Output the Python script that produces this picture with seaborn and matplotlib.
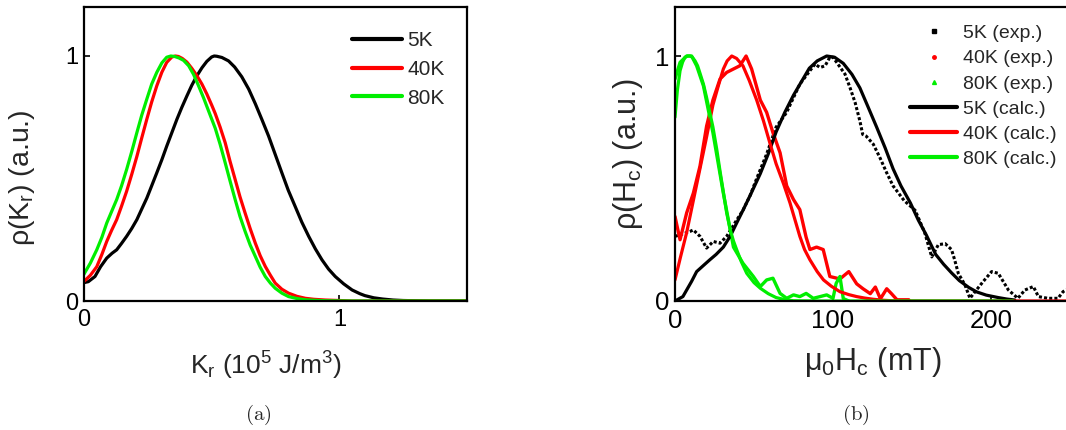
import numpy as np
import pandas as pd
import matplotlib
matplotlib.use("Agg")
import matplotlib.pyplot as plt
from matplotlib.lines import Line2D
import seaborn as sns

# ---------------- panel (a): rho(Kr) ----------------
kr_5K = [0, 0.017, 0.043, 0.065, 0.089, 0.11, 0.128, 0.147, 0.167, 0.187, 0.207, 0.226, 0.246,
         0.265, 0.285, 0.305, 0.324, 0.344, 0.364, 0.383, 0.403, 0.422, 0.442, 0.462, 0.481,
         0.50, 0.51, 0.52, 0.54, 0.566, 0.59, 0.618, 0.645, 0.671, 0.697, 0.723, 0.749, 0.775,
         0.80, 0.827, 0.853, 0.88, 0.906, 0.932, 0.958, 0.984, 1.017, 1.05, 1.08, 1.1, 1.135,
         1.17, 1.21, 1.25, 1.3, 1.35, 1.5]
rho_5K = [0.075, 0.079, 0.10, 0.14, 0.175, 0.195, 0.209, 0.235, 0.264, 0.296, 0.332, 0.375, 0.42,
          0.47, 0.523, 0.577, 0.632, 0.687, 0.742, 0.79, 0.837, 0.88, 0.919, 0.952, 0.978,
          0.996, 1.0, 0.999, 0.994, 0.98, 0.955, 0.915, 0.865, 0.805, 0.74, 0.673, 0.598, 0.523,
          0.452, 0.386, 0.322, 0.264, 0.213, 0.168, 0.13, 0.10, 0.07, 0.045, 0.03, 0.022, 0.013,
          0.008, 0.004, 0.002, 0.001, 0.0, 0.0]

kr_40K = [0, 0.025, 0.05, 0.07, 0.089, 0.108, 0.128, 0.147, 0.167, 0.187, 0.207, 0.226, 0.246,
          0.265, 0.285, 0.305, 0.324, 0.344, 0.358, 0.37, 0.385, 0.403, 0.422, 0.442, 0.462,
          0.481, 0.50, 0.514, 0.533, 0.553, 0.572, 0.592, 0.611, 0.631, 0.651, 0.671, 0.69, 0.71,
          0.73, 0.749, 0.775, 0.801, 0.834, 0.867, 0.9, 0.945, 1.0, 1.05, 1.5]
rho_40K = [0.08, 0.105, 0.14, 0.19, 0.243, 0.288, 0.332, 0.387, 0.448, 0.517, 0.59, 0.665, 0.742,
           0.812, 0.878, 0.934, 0.974, 0.996, 1.0, 0.998, 0.99, 0.975, 0.95, 0.92, 0.885,
           0.845, 0.80, 0.765, 0.71, 0.646, 0.57, 0.496, 0.425, 0.359, 0.295, 0.236, 0.185, 0.141,
           0.105, 0.073, 0.048, 0.032, 0.019, 0.011, 0.007, 0.004, 0.002, 0.0, 0.0]

kr_80K = [0, 0.025, 0.05, 0.07, 0.089, 0.108, 0.128, 0.147, 0.167, 0.187, 0.207, 0.226, 0.246,
          0.265, 0.285, 0.305, 0.324, 0.34, 0.355, 0.372, 0.39, 0.41, 0.429, 0.448, 0.468, 0.49,
          0.514, 0.533, 0.553, 0.572, 0.592, 0.611, 0.631, 0.651, 0.671, 0.69, 0.71, 0.73, 0.749,
          0.775, 0.801, 0.834, 0.867, 0.9, 0.945, 1.05, 1.5]
rho_80K = [0.11, 0.155, 0.209, 0.26, 0.318, 0.365, 0.414, 0.47, 0.537, 0.61, 0.687, 0.758, 0.824,
           0.885, 0.933, 0.972, 0.995, 1.0, 0.998, 0.992, 0.982, 0.96, 0.925, 0.88, 0.83, 0.77,
           0.705, 0.64, 0.564, 0.49, 0.414, 0.345, 0.284, 0.228, 0.182, 0.138, 0.10, 0.073,
           0.052, 0.032, 0.018, 0.01, 0.005, 0.003, 0.001, 0.0, 0.0]

# ---------------- panel (b): rho(Hc) ----------------
# experimental
h_exp_5K = [0, 3.2, 9.5, 11.6, 15.8, 20, 24.2, 28.5, 32.7, 39, 43, 47.5, 51.7, 58, 64, 70.7,
            72.8, 79, 85.4, 88.6, 91.8, 95, 98, 100, 107.6, 110.8, 114, 117, 118.8, 121, 125.5,
            129.7, 134, 138, 145, 152, 158, 162.5, 166.7, 171, 175, 177, 179.3, 183.5, 186.7,
            189.9, 195, 200.4, 204.6, 211, 217, 221.5, 226.8, 230, 236, 242.4, 245.6, 247.5, 250]
r_exp_5K = [0.264, 0.27, 0.284, 0.29, 0.264, 0.216, 0.243, 0.236, 0.264, 0.33, 0.37, 0.43, 0.50,
            0.60, 0.71, 0.77, 0.80, 0.885, 0.94, 0.967, 0.953, 0.96, 0.995, 0.995, 0.926, 0.87,
            0.81, 0.735, 0.68, 0.673, 0.64, 0.585, 0.523, 0.47, 0.41, 0.37, 0.28, 0.18, 0.23,
            0.234, 0.21, 0.168, 0.113, 0.066, 0.011, 0.038, 0.079, 0.12, 0.113, 0.045, 0.011,
            0.045, 0.059, 0.018, 0.011, 0.011, 0.038, 0.045, 0.05]

h_exp_40K = [0, 1.5, 3.2, 7.4, 11.6, 15.8, 20, 24, 28.5, 32.7, 37, 41, 45, 48.5, 54, 58, 62, 66.5,
             70.7, 75, 79, 83, 85.4, 89.6, 93.8, 98, 104.4, 110, 115, 119, 123.6, 126.8, 130,
             134, 137, 140.5, 148]
r_exp_40K = [0.345, 0.30, 0.25, 0.36, 0.44, 0.55, 0.714, 0.82, 0.906, 0.933, 0.947, 0.96, 1.0,
             0.947, 0.82, 0.77, 0.687, 0.605, 0.47, 0.414, 0.373, 0.26, 0.21, 0.22, 0.21, 0.10,
             0.09, 0.12, 0.07, 0.05, 0.03, 0.057, 0.009, 0.05, 0.03, 0.005, 0.005]

h_exp_80K = [0, 3.2, 7.4, 10.5, 13.7, 18, 24, 30.6, 37, 43, 49.6, 54, 58, 62, 66.5, 70.7, 75, 79,
             83, 87.5, 91.8, 96, 100, 102, 104.4, 106.5, 110]
r_exp_80K = [0.906, 0.974, 1.0, 1.0, 0.96, 0.878, 0.687, 0.44, 0.22, 0.154, 0.10, 0.059, 0.086,
             0.093, 0.031, 0.011, 0.025, 0.018, 0.031, 0.011, 0.018, 0.025, 0.011, 0.072, 0.10,
             0.01, 0.0]

# calculated
h_calc_5K = [0, 5, 10.5, 13.7, 18, 22, 26, 30.6, 35, 39, 43, 47.5, 54, 59, 64, 69.5, 75, 80, 85,
             90, 96, 101, 106.5, 112, 117, 122, 127.6, 133, 138, 143, 149, 154, 159, 165, 170,
             175, 180, 186, 191, 197, 204.6, 210, 215]
r_calc_5K = [0, 0.018, 0.08, 0.12, 0.145, 0.168, 0.19, 0.22, 0.265, 0.318, 0.37, 0.43, 0.52, 0.60,
             0.69, 0.77, 0.84, 0.895, 0.95, 0.98, 1.0, 0.995, 0.97, 0.925, 0.87, 0.795, 0.71,
             0.625, 0.54, 0.47, 0.40, 0.33, 0.27, 0.19, 0.15, 0.115, 0.083, 0.055, 0.037, 0.024,
             0.014, 0.008, 0.004]

h_calc_40K = [0, 3.5, 7.4, 11.6, 15.8, 20, 24, 27.5, 30.6, 33, 35.9, 39, 43, 47, 51.7, 56, 60, 64,
              68.6, 72.8, 76, 79, 82, 85.4, 90, 94, 99, 104.4, 110, 115, 120, 125.6, 132, 140, 250]
r_calc_40K = [0.086, 0.18, 0.28, 0.41, 0.54, 0.67, 0.80, 0.88, 0.947, 0.98, 1.0, 0.99, 0.96, 0.90,
              0.82, 0.735, 0.646, 0.56, 0.48, 0.40, 0.33, 0.264, 0.21, 0.168, 0.12, 0.086, 0.06,
              0.038, 0.026, 0.018, 0.012, 0.007, 0.003, 0.0, 0.0]

h_calc_80K = [0, 1.5, 3.2, 4.8, 6.3, 8, 9.5, 11, 12.7, 14.3, 15.8, 18, 20, 22, 24, 26.4, 28.5,
              30.6, 32.7, 35, 37, 39, 42, 45.4, 50, 54, 59, 64, 70, 75, 90, 214]
r_calc_80K = [0.75, 0.86, 0.94, 0.975, 0.995, 1.0, 1.0, 0.995, 0.98, 0.96, 0.93, 0.885, 0.83,
              0.77, 0.71, 0.62, 0.53, 0.445, 0.36, 0.29, 0.245, 0.21, 0.16, 0.113, 0.075, 0.052,
              0.03, 0.014, 0.005, 0.001, 0.0, 0.0]

labels_a = ["5K", "40K", "80K"]
labels_b = ["5K (exp.)", "40K (exp.)", "80K (exp.)", "5K (calc.)", "40K (calc.)", "80K (calc.)"]

BLACK, RED, GREEN = "#000000", "#ff0000", "#00ee00"

# ---------------- style ----------------
sns.set_style("white")
plt.rcParams["font.family"] = ["Liberation Sans", "DejaVu Sans"]
plt.rcParams["mathtext.fontset"] = "custom"
plt.rcParams["mathtext.rm"] = "Liberation Sans"
plt.rcParams["mathtext.it"] = "Liberation Sans:italic"
plt.rcParams["mathtext.default"] = "regular"
plt.rcParams["lines.solid_joinstyle"] = "round"
plt.rcParams["lines.solid_capstyle"] = "round"

W, H = 1066, 430
fig = plt.figure(figsize=(W / 100, H / 100), dpi=100)
axL = fig.add_axes([84 / W, 129 / H, 383 / W, 294 / H])
axR = fig.add_axes([675 / W, 129 / H, 395 / W, 294 / H])

# ---------------- panel (a) ----------------
for xs, ys, c in [(kr_5K, rho_5K, BLACK), (kr_40K, rho_40K, RED), (kr_80K, rho_80K, GREEN)]:
    sns.lineplot(x=xs, y=ys, ax=axL, color=c, linewidth=2.3, sort=False, estimator=None)

axL.set_xlim(0, 1.5)
axL.set_ylim(0, 1.2)
axL.set_xticks([0, 1])
axL.set_xticklabels(["0", "1"])
axL.set_yticks([0, 1])
axL.set_yticklabels(["0", "1"])
axL.set_xlabel("K$_r$ (10$^5$ J/m$^3$)", fontsize=19)
axL.set_ylabel("ρ(K$_r$) (a.u.)", fontsize=20.5)
axL.xaxis.set_label_coords(0.476, -0.167)
axL.yaxis.set_label_coords(-0.123, 0.42)

hL = [Line2D([], [], color=c, lw=3) for c in (BLACK, RED, GREEN)]
axL.legend(hL, labels_a, loc="upper left", bbox_to_anchor=(0.70, 0.918), frameon=False,
           fontsize=15, handlelength=2.4, handletextpad=0.25, labelspacing=0.47,
           borderpad=0, borderaxespad=0)

# ---------------- panel (b) ----------------
sns.lineplot(x=h_exp_5K, y=r_exp_5K, ax=axR, color=BLACK, linewidth=2.2, sort=False,
             estimator=None, linestyle=(0, (1.0, 0.7)))
sns.lineplot(x=h_exp_40K, y=r_exp_40K, ax=axR, color=RED, linewidth=2.4, sort=False,
             estimator=None)
sns.lineplot(x=h_exp_80K, y=r_exp_80K, ax=axR, color=GREEN, linewidth=2.4, sort=False,
             estimator=None)
for xs, ys, c in [(h_calc_5K, r_calc_5K, BLACK), (h_calc_40K, r_calc_40K, RED),
                  (h_calc_80K, r_calc_80K, GREEN)]:
    sns.lineplot(x=xs, y=ys, ax=axR, color=c, linewidth=2.3, sort=False, estimator=None)

axR.set_xlim(0, 250)
axR.set_ylim(0, 1.2)
axR.set_xticks([0, 100, 200])
axR.set_xticklabels(["0", "100", "200"])
axR.set_yticks([0, 1])
axR.set_yticklabels(["0", "1"])
axR.set_xlabel("μ$_0$H$_c$ (mT)", fontsize=22)
axR.set_ylabel("ρ(H$_c$) (a.u.)", fontsize=22)
axR.xaxis.set_label_coords(0.5, -0.15)
axR.yaxis.set_label_coords(-0.076, 0.50)

hR = [Line2D([], [], ls="none", marker="s", ms=2.5, color=BLACK),
      Line2D([], [], ls="none", marker="o", ms=2.5, color=RED),
      Line2D([], [], ls="none", marker="^", ms=2.8, color=GREEN),
      Line2D([], [], color=BLACK, lw=3),
      Line2D([], [], color=RED, lw=3),
      Line2D([], [], color=GREEN, lw=3)]
axR.legend(hR, labels_b, loc="upper left", bbox_to_anchor=(0.595, 0.94), frameon=False,
           fontsize=14, handlelength=2.42, handletextpad=0.31, labelspacing=0.39,
           borderpad=0, borderaxespad=0)

for ax, ls in ((axL, 17), (axR, 18.5)):
    for s in ax.spines.values():
        s.set_linewidth(1.6)
        s.set_color("black")
        s.set_visible(True)
    ax.tick_params(direction="in", length=4, width=1.2, labelsize=ls, colors="black",
                   bottom=True, left=True, top=False, right=False)
    ax.tick_params(axis="x", pad=6)
    ax.tick_params(axis="y", pad=4)
    ax.grid(False)

fig.text(258 / W, 1 - 415 / H, r"$\mathrm{(a)}$", math_fontfamily="cm", ha="center",
         va="center", fontsize=15)
fig.text(856 / W, 1 - 415 / H, r"$\mathrm{(b)}$", math_fontfamily="cm", ha="center",
         va="center", fontsize=15)

fig.savefig("out.png", dpi=100, facecolor="white")
